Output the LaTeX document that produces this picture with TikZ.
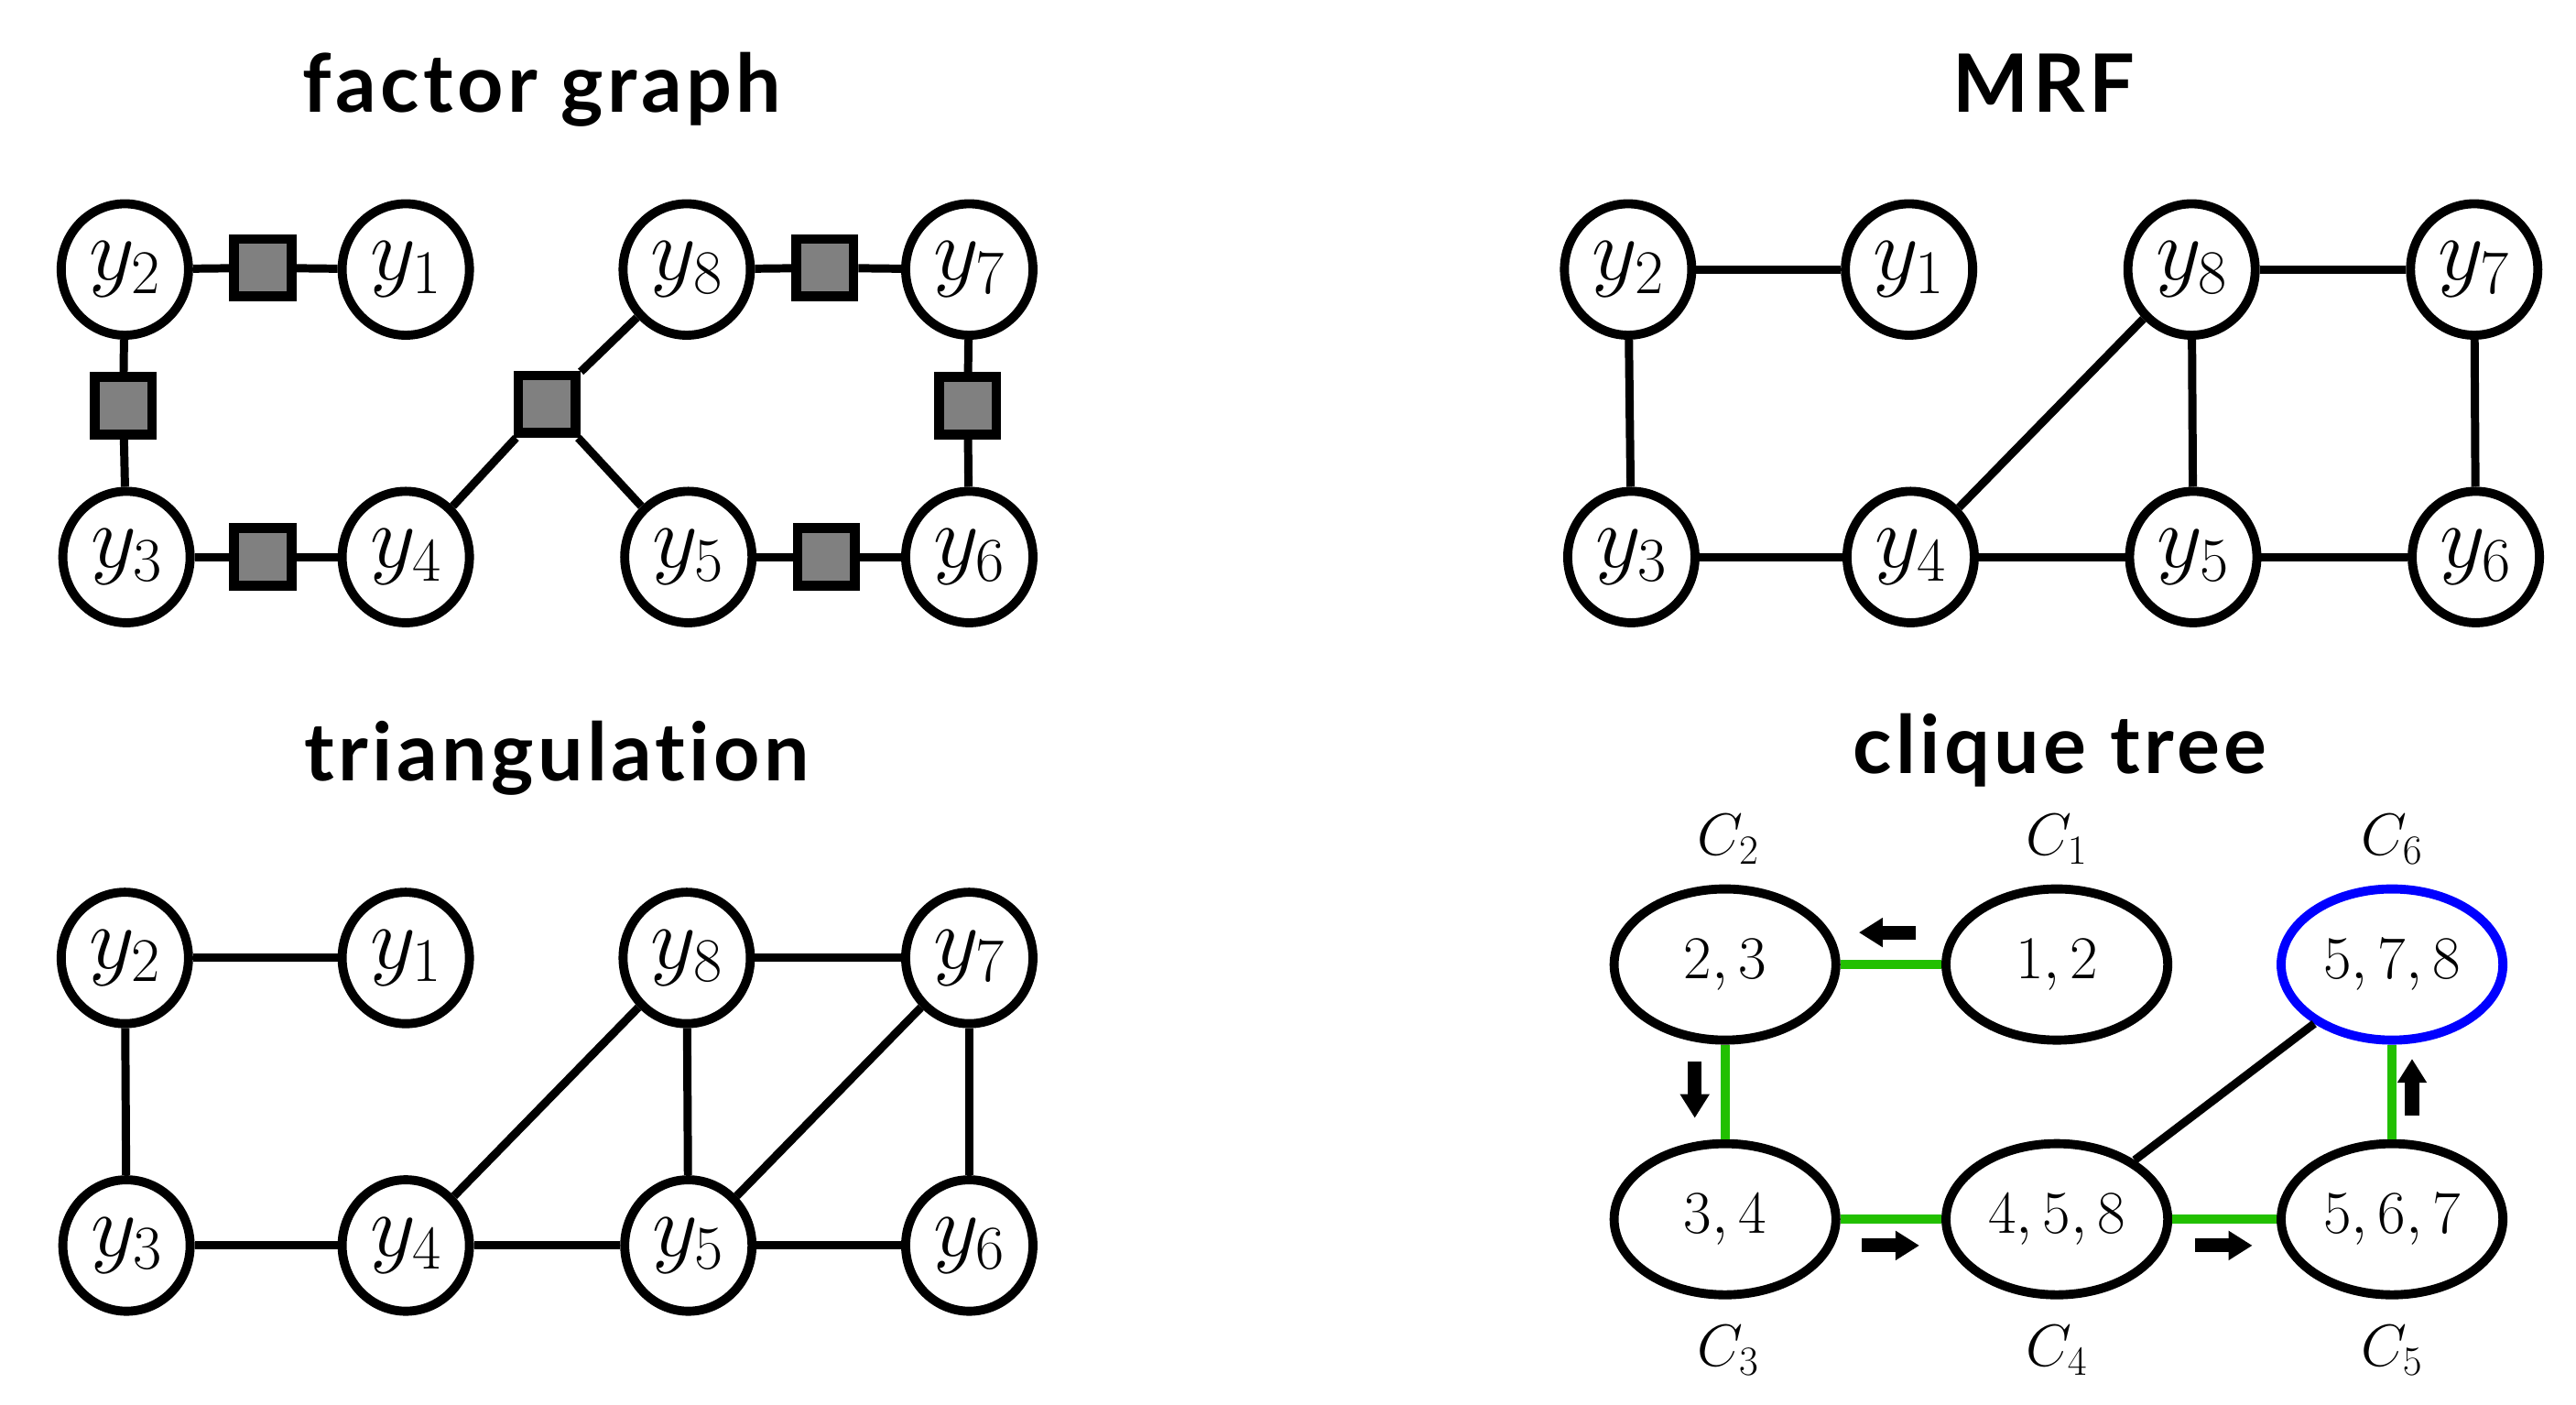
\RequirePackage{fix-cm}
\documentclass[tikz,border=0pt]{standalone}
\usepackage{fontspec}
\newfontfamily\titlefont{Lato Bold}[Ligatures={NoCommon},LetterSpace=5]
\usetikzlibrary{arrows.meta,shapes.geometric}
\definecolor{tgreen}{RGB}{34,192,0}
\definecolor{fgray}{RGB}{128,128,128}
\tikzset{
  var/.style={draw, ellipse, line width=5.5pt, minimum width=77.5pt, minimum height=80pt, inner sep=0pt, font=\fontsize{54}{64}\selectfont},
  fac/.style={draw, fill=fgray, line width=6pt, minimum size=35pt, inner sep=0pt},
  edge/.style={line width=5pt},
  clq/.style={draw, ellipse, line width=5.5pt, minimum width=135pt, minimum height=92pt, inner sep=0pt, font=\fontsize{37}{44}\selectfont},
  clqlab/.style={font=\fontsize{36}{44}\selectfont, inner sep=0pt},
  gedge/.style={line width=5.5pt, draw=tgreen},
  msg/.style={line width=8.4pt, -{Triangle[length=14.5pt,width=17pt]}},
  ttl/.style={font=\titlefont\fontsize{49}{58}\selectfont, anchor=base, inner sep=0pt}
}
\begin{document}
\begin{tikzpicture}[x=1pt,y=-1pt]
\useasboundingbox (0,0) rectangle (1568,855);
% titles
\node[ttl] (t1) at (330,68) {factor graph};
\node[ttl] (t2) at (1244,68) {MRF};
\node[ttl] (t3) at (339,475) {triangulation};
\node[ttl] (t4) at (1254,471) {clique tree};

% ---------- factor graph ----------
\node[var] (a2) at (76,164) {$y_2$};
\node[var] (a1) at (247,164) {$y_1$};
\node[var] (a8) at (418,164) {$y_8$};
\node[var] (a7) at (590,164) {$y_7$};
\node[var] (a3) at (77,339) {$y_3$};
\node[var] (a4) at (247,339) {$y_4$};
\node[var] (a5) at (419,339) {$y_5$};
\node[var] (a6) at (590,339) {$y_6$};
\node[fac] (f21) at (160,163) {};
\node[fac] (f23) at (75,247) {};
\node[fac] (f34) at (160,339) {};
\node[fac] (f458) at (333,246) {};
\node[fac] (f87) at (502,163) {};
\node[fac] (f76) at (589,247) {};
\node[fac] (f56) at (503,339) {};
\draw[edge] (a2) -- (f21) -- (a1);
\draw[edge] (a2) -- (f23) -- (a3);
\draw[edge] (a3) -- (f34) -- (a4);
\draw[edge] (a8) -- (f87) -- (a7);
\draw[edge] (a7) -- (f76) -- (a6);
\draw[edge] (a5) -- (f56) -- (a6);
\draw[edge] (a4) -- (f458) -- (a8);
\draw[edge] (f458) -- (a5);

% ---------- MRF ----------
\node[var] (b2) at (991,164) {$y_2$};
\node[var] (b1) at (1162,164) {$y_1$};
\node[var] (b8) at (1334,164) {$y_8$};
\node[var] (b7) at (1506,164) {$y_7$};
\node[var] (b3) at (993,339) {$y_3$};
\node[var] (b4) at (1163,339) {$y_4$};
\node[var] (b5) at (1335,339) {$y_5$};
\node[var] (b6) at (1507,339) {$y_6$};
\draw[edge] (b2) -- (b1);
\draw[edge] (b2) -- (b3);
\draw[edge] (b3) -- (b4);
\draw[edge] (b4) -- (b5);
\draw[edge] (b5) -- (b6);
\draw[edge] (b8) -- (b7);
\draw[edge] (b8) -- (b5);
\draw[edge] (b7) -- (b6);
\draw[edge] (b4) -- (b8);

% ---------- triangulation ----------
\node[var] (c2) at (76,583) {$y_2$};
\node[var] (c1) at (247,583) {$y_1$};
\node[var] (c8) at (418,583) {$y_8$};
\node[var] (c7) at (590,583) {$y_7$};
\node[var] (c3) at (77,758) {$y_3$};
\node[var] (c4) at (247,758) {$y_4$};
\node[var] (c5) at (419,758) {$y_5$};
\node[var] (c6) at (590,758) {$y_6$};
\draw[edge] (c2) -- (c1);
\draw[edge] (c2) -- (c3);
\draw[edge] (c3) -- (c4);
\draw[edge] (c4) -- (c5);
\draw[edge] (c5) -- (c6);
\draw[edge] (c8) -- (c7);
\draw[edge] (c8) -- (c5);
\draw[edge] (c7) -- (c6);
\draw[edge] (c4) -- (c8);
\draw[edge] (c5) -- (c7);

% ---------- clique tree ----------
\node[clq] (k2) at (1050,587) {$2,3$};
\node[clq] (k1) at (1252,587) {$1,2$};
\node[clq, draw=blue] (k6) at (1456,587) {$5,7,8$};
\node[clq] (k3) at (1050,742) {$3,4$};
\node[clq] (k4) at (1252,742) {$4,5,8$};
\node[clq] (k5) at (1456,742) {$5,6,7$};
\node[clqlab] (l2) at (1052,511) {$C_2$};
\node[clqlab] (l1) at (1252,511) {$C_1$};
\node[clqlab] (l6) at (1456,511) {$C_6$};
\node[clqlab] (l3) at (1052,822) {$C_3$};
\node[clqlab] (l4) at (1252,822) {$C_4$};
\node[clqlab] (l5) at (1456,822) {$C_5$};
\draw[gedge] (k1) -- (k2);
\draw[gedge] (k2) -- (k3);
\draw[gedge] (k3) -- (k4);
\draw[gedge] (k4) -- (k5);
\draw[gedge] (k5) -- (k6);
\draw[edge] (k4) -- (k6);

% message arrows
\coordinate (m1s) at (1166,567.5); \coordinate (m1e) at (1131.5,567.5);
\coordinate (m2s) at (1031.6,646); \coordinate (m2e) at (1031.6,680.4);
\coordinate (m3s) at (1133.3,758); \coordinate (m3e) at (1168.3,758);
\coordinate (m4s) at (1336,758); \coordinate (m4e) at (1371,758);
\coordinate (m5s) at (1468.2,678.7); \coordinate (m5e) at (1468.2,644.4);
\draw[msg] (m1s) -- (m1e);
\draw[msg] (m2s) -- (m2e);
\draw[msg] (m3s) -- (m3e);
\draw[msg] (m4s) -- (m4e);
\draw[msg] (m5s) -- (m5e);
\end{tikzpicture}
\end{document}
